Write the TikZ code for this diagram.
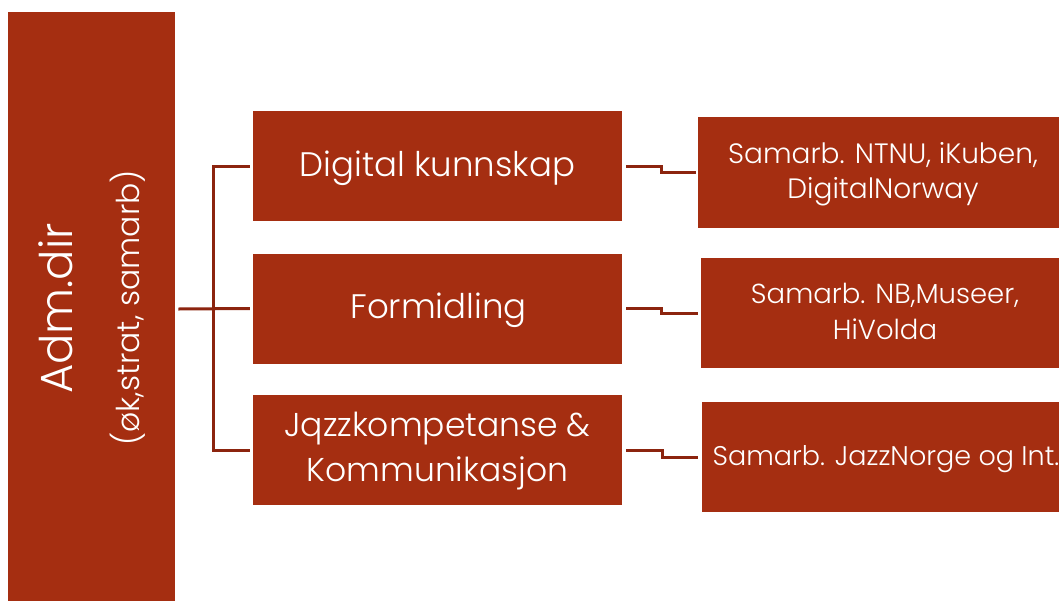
\documentclass[tikz,border=0pt]{standalone}
\usepackage{fontspec}
\IfFontExistsTF{Poppins Light}{\setmainfont{Poppins Light}}{\setmainfont{Poppins}}
\definecolor{boxred}{RGB}{165,46,17}
\definecolor{linered}{RGB}{140,36,14}
\tikzset{
  box/.style={fill=boxred, draw=none, inner sep=0pt},
  boxtext/.style={text=white, inner sep=0pt, anchor=base},
  midfont/.style={font=\fontsize{34}{40}\selectfont},
  conn/.style={draw=linered, line width=3pt},
}
\begin{document}
\begin{tikzpicture}[x=1pt,y=-1pt]
\useasboundingbox (0,0) rectangle (1059,600);
\clip (0,0) rectangle (1059,600);
% left box
\node[box, minimum width=167, minimum height=600, anchor=north west] (adm) at (8,12) {};
\node[boxtext, rotate=90, font=\fontsize{45}{50}\selectfont] (t1) at (72,308.5) {Adm.dir};
\node[boxtext, rotate=90, font=\fontsize{31.5}{36}\selectfont] (t2) at (139,308) {(øk,strat, samarb)};
% middle boxes
\node[box, minimum width=369, minimum height=110] (m1) at (437.5,166) {};
\node[box, minimum width=369, minimum height=110] (m2) at (437.5,308.5) {};
\node[box, minimum width=369, minimum height=110] (m3) at (437.5,450) {};
\node[boxtext, midfont] (m1t) at (437.5,176.7) {Digital kunnskap};
\node[boxtext, midfont] (m2t) at (438.5,318) {Formidling};
\node[boxtext, font=\fontsize{33}{40}\selectfont] (m3ta) at (437.5,436.7) {Jqzzkompetanse \&};
\node[boxtext, font=\fontsize{33}{40}\selectfont] (m3tb) at (437.5,481.7) {Kommunikasjon};
% right boxes
\node[box, minimum width=370, minimum height=111] (r1) at (883,172.5) {};
\node[box, minimum width=368, minimum height=110] (r2) at (885,313) {};
\node[box, minimum width=367, minimum height=110] (r3) at (885,457) {};
\node[boxtext, font=\fontsize{28}{36}\selectfont] (r1ta) at (883,163) {Samarb. NTNU, iKuben,};
\node[boxtext, font=\fontsize{28}{36}\selectfont] (r1tb) at (883,198) {DigitalNorway};
\node[boxtext, font=\fontsize{27.5}{36}\selectfont] (r2ta) at (885,303) {Samarb. NB,Museer,};
\node[boxtext, font=\fontsize{27.5}{36}\selectfont] (r2tb) at (885,339) {HiVolda};
\node[boxtext, font=\fontsize{27}{36}\selectfont] (r3t) at (886,465) {Samarb. JazzNorge og Int.};
% left connectors
\coordinate (j) at (213,309);
\draw[conn] ([xshift=3pt]adm.east |- j) -- ([xshift=-3pt]m2.west);
\draw[conn] ([xshift=-3pt]m1.west) -| (j) |- ([xshift=-3pt]m3.west);
% right connectors
\draw[conn] ([xshift=4pt]m1.east) -- ++(35,0) |- ([xshift=-2pt]r1.west);
\draw[conn] ([xshift=4pt]m2.east) -- ++(35,0) |- ([xshift=-3pt]r2.west);
\draw[conn] ([xshift=4pt]m3.east) -- ++(36,0) |- ([xshift=-3pt]r3.west);
\end{tikzpicture}
\end{document}
